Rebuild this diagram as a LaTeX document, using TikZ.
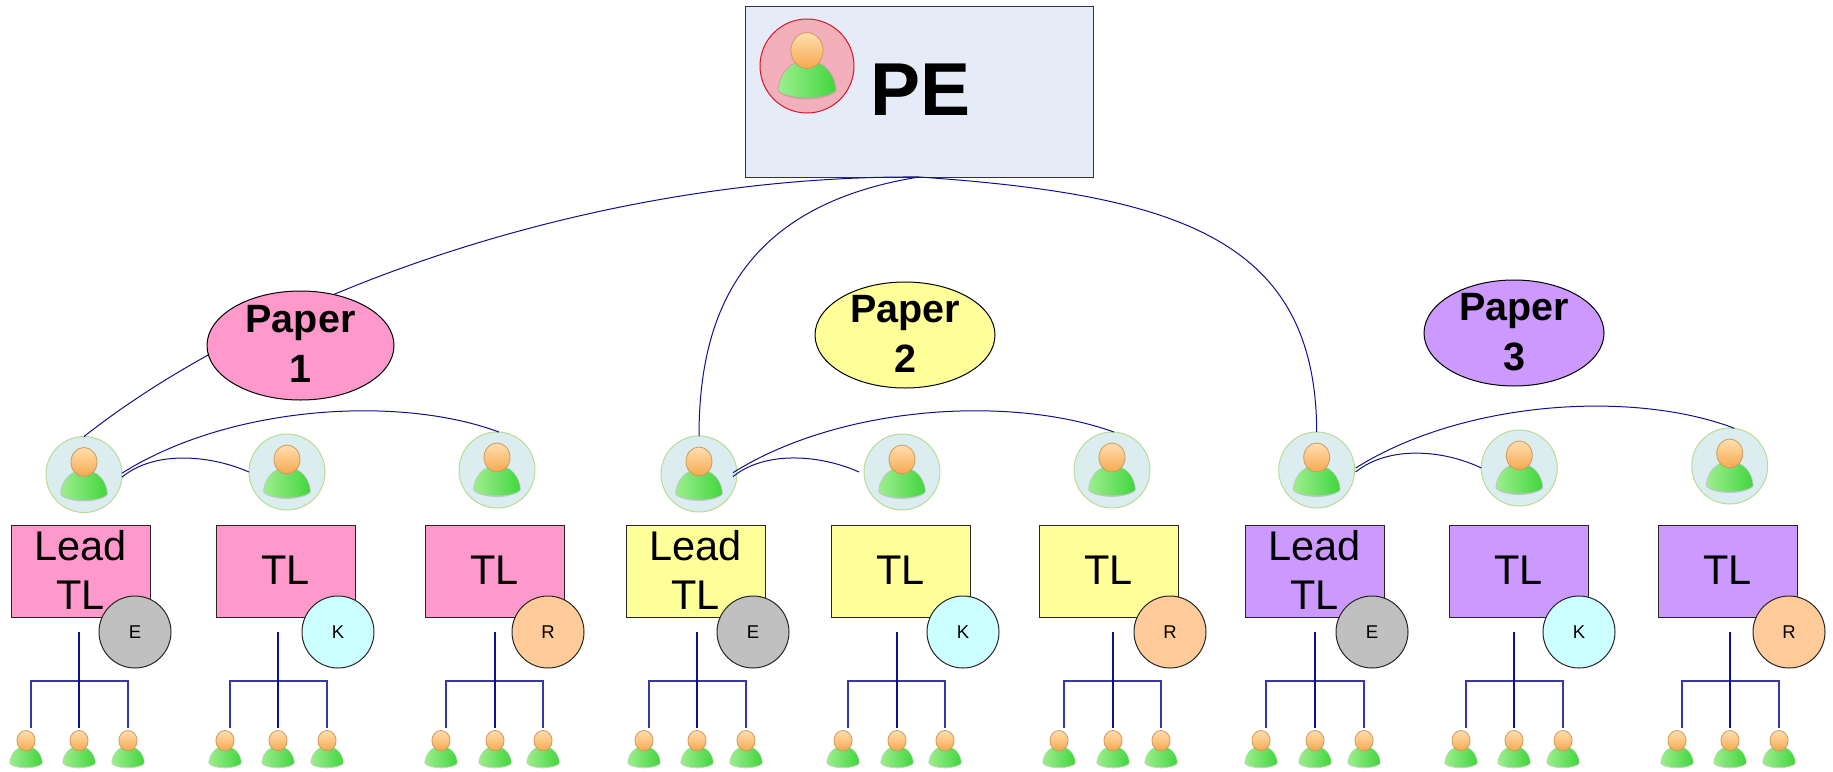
\documentclass[tikz,border=0pt]{standalone}
\usepackage{fontspec}
\setmainfont{Liberation Sans}
\usetikzlibrary{shapes.geometric}
\definecolor{linkblue}{HTML}{10108F}
\definecolor{branchblue}{HTML}{3838A4}
\definecolor{pepale}{HTML}{E6ECF7}
\definecolor{pered}{HTML}{F4B0BA}
\definecolor{peline}{HTML}{D8142A}
\definecolor{pinkfill}{HTML}{FF99CC}
\definecolor{yellowfill}{HTML}{FFFF99}
\definecolor{purplefill}{HTML}{CC99FF}
\definecolor{greyfill}{HTML}{C0C0C0}
\definecolor{cyanfill}{HTML}{CCFFFF}
\definecolor{orangefill}{HTML}{FFCC99}
\definecolor{halofill}{HTML}{DCEDF0}
\definecolor{haloline}{HTML}{B8DC96}
\definecolor{bodylight}{HTML}{9CEE8C}
\definecolor{bodymid}{HTML}{70E268}
\definecolor{bodydark}{HTML}{42D63C}
\definecolor{headlight}{HTML}{FFDFB0}
\definecolor{headdark}{HTML}{F6A94E}
\definecolor{headline}{HTML}{CC9A60}
\newcommand{\leadtext}{Lead\\TL}
\newcommand{\tltext}{TL}
% person icon: centred on a named node or coordinate, drawn at a given scale
\newcommand{\personicon}[2]{%
  \begin{scope}[shift={(#1)},scale=#2]
    \path[fill=black!45,opacity=.4]
      (-23.8,19) .. controls (-23,7) and (-14,-5) .. (0,-5)
      .. controls (14,-5) and (23,7) .. (23.8,19)
      .. controls (24,23) and (12,27) .. (0,27)
      .. controls (-12,27) and (-24,23) .. (-23.8,19) -- cycle;
    \path[left color=bodylight,right color=bodydark,middle color=bodymid]
      (-23,19) .. controls (-22,7) and (-14,-4) .. (0,-4)
      .. controls (14,-4) and (22,7) .. (23,19)
      .. controls (23,22) and (12,25.5) .. (0,25.5)
      .. controls (-12,25.5) and (-23,22) .. (-23,19) -- cycle;
    \path[draw=headline,line width=.8pt,top color=headlight,bottom color=headdark]
      (0,-12.5) ellipse [x radius=13,y radius=14.5];
  \end{scope}}
\tikzset{
  link/.style={draw=linkblue,line width=1pt},
  stem/.style={draw=linkblue,line width=1.1pt},
  branch/.style={draw=branchblue,line width=1.1pt},
  chiefbox/.style={rectangle,draw=black!80,fill=pepale,line width=1pt,minimum width=348pt,minimum height=171pt,inner sep=0pt,outer sep=0pt},
  chieflabel/.style={inner sep=0pt,font=\bfseries\fontsize{75}{75}\selectfont},
  chiefhalo/.style={circle,draw=peline,fill=pered,line width=1pt,minimum size=94pt,inner sep=0pt,outer sep=0pt},
  paper/.style={ellipse,draw=black,line width=1pt,inner sep=0pt,outer sep=0pt},
  papertext/.style={align=center,inner sep=0pt,text depth=3.5pt,font=\bfseries\fontsize{39.5}{50}\selectfont},
  halo/.style={circle,draw=haloline,fill=halofill,line width=1pt,minimum size=76pt,inner sep=0pt,outer sep=0pt},
  teambox/.style={rectangle,draw=black!85,line width=1pt,minimum width=139pt,minimum height=92pt,inner sep=0pt,outer sep=0pt,align=center,text depth=3.5pt,font=\fontsize{41.5}{49}\selectfont},
  badge/.style={circle,draw=black!85,line width=1pt,minimum size=72pt,inner sep=0pt,outer sep=0pt,font=\fontsize{18.5}{20}\selectfont},
  memberspot/.style={inner sep=0pt,minimum size=1pt}
}
\begin{document}
\begin{tikzpicture}[x=1pt,y=-1pt]
\useasboundingbox (0,0) rectangle (1833,771);

% chief
\node[chiefbox] (pe) at (919,91.5) {};
\node[chiefhalo] (pehalo) at (807,66) {};
\personicon{pehalo.center}{1.237}
\node[chieflabel,anchor=base west] (pelabel) at (870,115) {PE};

% large person circles
\foreach \n/\x/\y in {c1/84/474.5,c2/287/472,c3/497/470,
                      c4/699/474,c5/902/472,c6/1112/470,
                      c7/1316.7/470,c8/1519.3/468,c9/1729.7/466}{
  \node[halo] (\n) at (\x,\y) {};
  \personicon{\n.center}{1}
}

% connectors from the chief
\draw[link] (pe.south) .. controls (600,175) and (270,290) .. (c1.north);
\draw[link] (pe.south) .. controls (745,205) and (699,310) .. (c4.north);
\draw[link] (pe.south) .. controls (1180,195) and (1316,240) .. (c7.north);

% connectors among the team leads
\draw[link] (c1.-4) .. controls (155,450) and (210,455) .. (c2.west);
\draw[link] (c1.2) .. controls (230,405) and (400,395) .. (c3.87);
\draw[link] ([xshift=-4pt]c4.-4) .. controls (766,450) and (821,455) .. ([xshift=-5pt]c5.west);
\draw[link] ([xshift=-4pt]c4.2) .. controls (841,405) and (1011,395) .. (c6.87);
\draw[link] ([xshift=1pt]c7.-3) .. controls (1389,445) and (1444,450) .. (c8.west);
\draw[link] ([xshift=1pt]c7.3) .. controls (1464,400) and (1634,390) .. (c9.83);

% papers
\node[paper,fill=pinkfill,minimum width=187pt,minimum height=109pt] (e1) at (300.5,345.5) {};
\node[paper,fill=yellowfill,minimum width=180pt,minimum height=106pt] (e2) at (905,335) {};
\node[paper,fill=purplefill,minimum width=180pt,minimum height=106pt] (e3) at (1514,333) {};
\node[papertext] (t1) at (e1.center) {Paper\\1};
\node[papertext,text depth=1.5pt] (t2) at (e2.center) {Paper\\2};
\node[papertext,text depth=3pt] (t3) at (e3.center) {Paper\\3};

% teams
\foreach \i/\bx/\sx/\lx/\rx/\col/\txt/\ex/\ecol/\lett in {
   1/80.5/79/31/128/pinkfill/\leadtext/135/greyfill/E,
   2/285.5/278/230/327/pinkfill/\tltext/338/cyanfill/K,
   3/494.5/495/446/543/pinkfill/\tltext/548/orangefill/R,
   4/695.5/697/649/746/yellowfill/\leadtext/753/greyfill/E,
   5/900.5/897/848/945/yellowfill/\tltext/963/cyanfill/K,
   6/1108.5/1113/1064/1161/yellowfill/\tltext/1170/orangefill/R,
   7/1314.5/1315/1266/1364/purplefill/\leadtext/1372/greyfill/E,
   8/1518.5/1514/1466/1563/purplefill/\tltext/1579/cyanfill/K,
   9/1727.5/1730/1682/1779/purplefill/\tltext/1789/orangefill/R}{
  \node[teambox,fill=\col] (b\i) at (\bx,571.5) {\txt};
  \node[badge,fill=\ecol] (k\i) at (\ex,632) {\lett};
  \coordinate (top\i) at (\sx,632);
  \coordinate (mid\i) at (\sx,728);
  \coordinate (lft\i) at (\lx,728);
  \coordinate (rgt\i) at (\rx,728);
  \draw[branch] (lft\i) -- ++(0,-47) -| (rgt\i);
  \draw[stem] (top\i) -- (mid\i);
  \pgfmathsetmacro{\lpx}{\lx-5}
  \node[memberspot] (ma\i) at (\lpx,749.4) {};
  \node[memberspot] (mb\i) at (\sx,749.4) {};
  \node[memberspot] (mc\i) at (\rx,749.4) {};
  \personicon{ma\i.center}{.7}
  \personicon{mb\i.center}{.7}
  \personicon{mc\i.center}{.7}
}
\end{tikzpicture}
\end{document}
